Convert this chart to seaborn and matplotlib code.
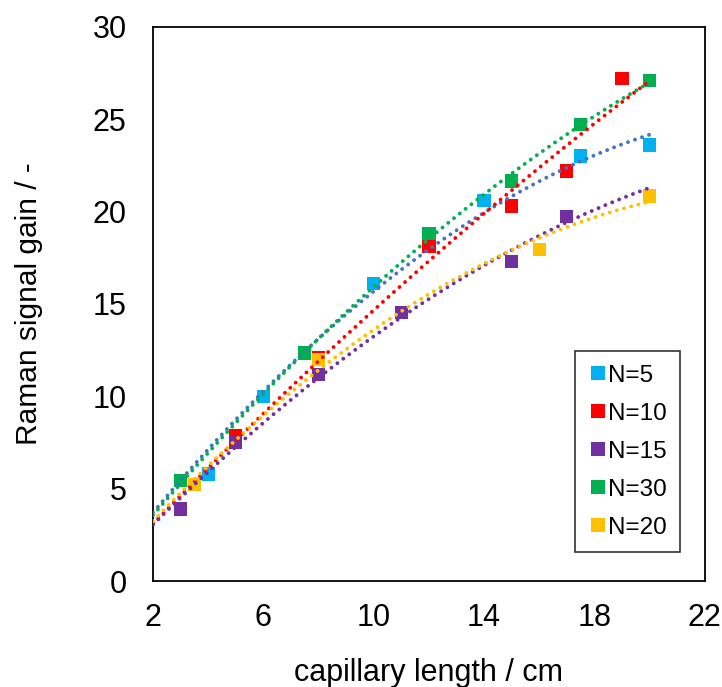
import numpy as np
import pandas as pd
import matplotlib
matplotlib.use("Agg")
import matplotlib.pyplot as plt
import seaborn as sns

# data
n5_x = [4, 6, 10, 14, 17.5, 20]
n5_y = [5.8, 10.0, 16.1, 20.6, 23.0, 23.6]
n10_x = [5, 8, 12, 15, 17, 19]
n10_y = [7.85, 12.1, 18.1, 20.3, 22.2, 27.2]
n15_x = [3, 5, 8, 11, 15, 17]
n15_y = [3.9, 7.5, 11.2, 14.55, 17.3, 19.75]
n30_x = [3, 7.5, 12, 15, 17.5, 20]
n30_y = [5.45, 12.35, 18.8, 21.65, 24.7, 27.1]
n20_x = [3.5, 8, 16, 20]
n20_y = [5.25, 12.0, 17.95, 20.85]

labels = ["N=5", "N=10", "N=15", "N=30", "N=20"]
marker_colors = ["#00B0F0", "#FF0000", "#7030A0", "#00B050", "#FFC000"]
trend_colors = ["#4472C4", "#FF0000", "#7030A0", "#00B050", "#FFC000"]

series = {
    "N=5": (n5_x, n5_y),
    "N=10": (n10_x, n10_y),
    "N=15": (n15_x, n15_y),
    "N=30": (n30_x, n30_y),
    "N=20": (n20_x, n20_y),
}

records = [
    {"series": name, "length": x, "gain": y}
    for name, (xs, ys) in series.items()
    for x, y in zip(xs, ys)
]
df = pd.DataFrame(records)

sns.set_style("white")
plt.rcParams["font.family"] = ["Liberation Sans", "DejaVu Sans"]
plt.rcParams["text.color"] = "black"
plt.rcParams["axes.labelcolor"] = "black"
plt.rcParams["xtick.color"] = "black"
plt.rcParams["ytick.color"] = "black"

fig = plt.figure(figsize=(7.22, 6.87), dpi=100)
ax = fig.add_axes([0.212, 0.154, 0.764, 0.807])

sns.scatterplot(data=df, x="length", y="gain", hue="series", hue_order=labels,
                palette=dict(zip(labels, marker_colors)), marker="s", s=92,
                linewidth=0, ax=ax, zorder=2)

# excel-style 2nd order trendlines with intercept set to 0
xx = np.linspace(2, 20, 200)
for name, tc in zip(labels, trend_colors):
    xs, ys = np.array(series[name][0]), np.array(series[name][1])
    A = np.column_stack([xs, xs ** 2])
    c, *_ = np.linalg.lstsq(A, ys, rcond=None)
    ax.plot(xx, c[0] * xx + c[1] * xx ** 2, color=tc, lw=2.8,
            linestyle=(0, (0.01, 1.9)), dash_capstyle="round", zorder=3)

ax.set_xlim(2, 22)
ax.set_ylim(0, 30)
ax.set_xticks([2, 6, 10, 14, 18, 22])
ax.set_yticks([0, 5, 10, 15, 20, 25, 30])
ax.tick_params(direction="in", length=7, width=1.2, labelsize=22, color="black")
ax.tick_params(axis="x", pad=16)
ax.tick_params(axis="y", pad=19)
for sp in ax.spines.values():
    sp.set_color("black")
    sp.set_linewidth(1.3)

ax.set_xlabel("capillary length / cm", fontsize=22, labelpad=18)
ax.set_ylabel("Raman signal gain / -", fontsize=21.5, labelpad=36)

leg = ax.legend(loc="lower right", bbox_to_anchor=(0.955, 0.052), fontsize=17.5,
                frameon=True, fancybox=False, edgecolor="black",
                handletextpad=0.0, handlelength=0.8, labelspacing=0.66,
                borderpad=0.55, borderaxespad=0, markerscale=1.0)
leg.get_frame().set_linewidth(1.2)

fig.savefig("out.png", dpi=100)
